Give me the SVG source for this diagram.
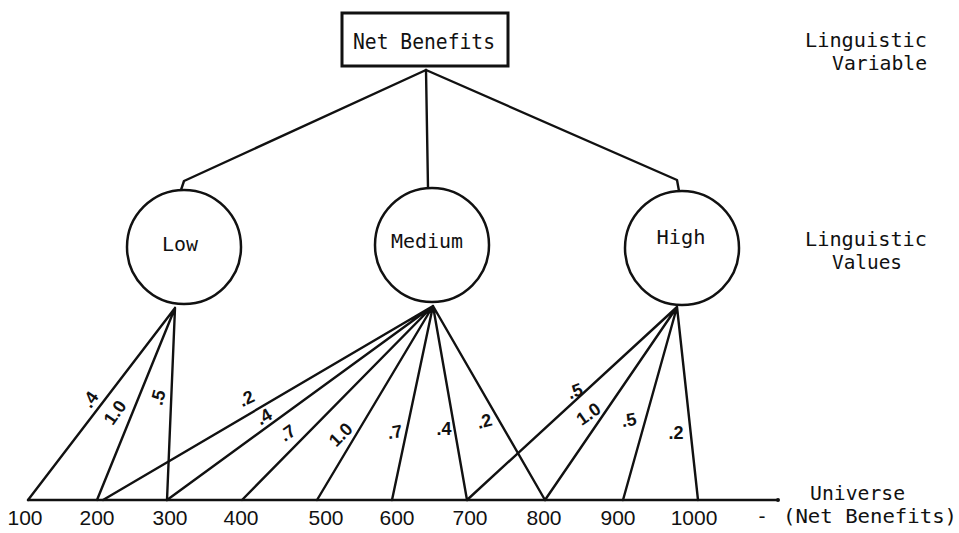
<svg xmlns="http://www.w3.org/2000/svg" width="959" height="533" viewBox="0 0 959 533">
<style>
.ln{fill:none;stroke:#111;stroke-width:2.4;stroke-linecap:round;stroke-linejoin:round}
.nd{fill:#fff;stroke:#111;stroke-width:2.5}
.mono{font-family:"DejaVu Sans Mono","Liberation Mono",monospace;fill:#111}
.num{font-family:"Liberation Sans","DejaVu Sans",sans-serif;font-size:21px;fill:#111;text-anchor:middle}
.mv{font-family:"Liberation Sans","DejaVu Sans",sans-serif;font-size:18px;font-weight:bold;fill:#111;text-anchor:middle}
</style>
<rect width="959" height="533" fill="#fff"/>
<g id="connectors">
<path class="ln" d="M426,70 L184,181 L181,190"/>
<path class="ln" d="M426,70 L428,188"/>
<path class="ln" d="M426,70 L677,180 L679,191"/>
<path class="ln" d="M175,308 L28,500 M175,308 L97,500 M175,308 L167,500"/>
<path class="ln" d="M433,306 L103,500 M433,306 L167,500 M433,306 L242,500 M433,306 L317,500 M433,306 L392,500 M433,306 L467,500 M433,306 L545,500"/>
<path class="ln" d="M677,307 L467,500 M677,307 L545,500 M677,307 L623,500 M677,307 L698,500"/>
</g>
<g id="axis">
<path class="ln" d="M28,500 L777,500"/>
<circle cx="778" cy="500" r="2" fill="#111"/>
</g>
<g id="net-benefits">
<rect x="342" y="13" width="166" height="53" fill="#fff" stroke="#111" stroke-width="3"/>
<text class="mono" x="353" y="49" font-size="21" textLength="142" lengthAdjust="spacingAndGlyphs">Net Benefits</text>
</g>
<g id="low">
<circle class="nd" cx="184" cy="247" r="57"/>
<text class="mono" x="180" y="251" font-size="20" text-anchor="middle" textLength="36" lengthAdjust="spacingAndGlyphs">Low</text>
</g>
<g id="medium">
<circle class="nd" cx="432" cy="245" r="57"/>
<text class="mono" x="427" y="248" font-size="20" text-anchor="middle" textLength="72" lengthAdjust="spacingAndGlyphs">Medium</text>
</g>
<g id="high">
<circle class="nd" cx="682" cy="248" r="57"/>
<text class="mono" x="681" y="244" font-size="20" text-anchor="middle" textLength="49" lengthAdjust="spacingAndGlyphs">High</text>
</g>
<g id="side-labels">
<text class="mono" x="805" y="47" font-size="20" textLength="122" lengthAdjust="spacingAndGlyphs">Linguistic</text>
<text class="mono" x="832" y="70" font-size="20" textLength="95" lengthAdjust="spacingAndGlyphs">Variable</text>
<text class="mono" x="805" y="246" font-size="20" textLength="122" lengthAdjust="spacingAndGlyphs">Linguistic</text>
<text class="mono" x="832" y="269" font-size="20" textLength="70" lengthAdjust="spacingAndGlyphs">Values</text>
<text class="mono" x="810" y="500" font-size="20" textLength="95" lengthAdjust="spacingAndGlyphs">Universe</text>
<text class="mono" x="783" y="523" font-size="20" textLength="174" lengthAdjust="spacingAndGlyphs">(Net Benefits)</text>
<text class="mono" x="762" y="523" font-size="20" text-anchor="middle">-</text>
</g>
<g id="axis-labels">
<text class="num" x="25" y="525">100</text>
<text class="num" x="97" y="525">200</text>
<text class="num" x="170" y="525">300</text>
<text class="num" x="241" y="525">400</text>
<text class="num" x="326" y="525">500</text>
<text class="num" x="397" y="525">600</text>
<text class="num" x="470" y="525">700</text>
<text class="num" x="544" y="525">800</text>
<text class="num" x="618" y="525">900</text>
<text class="num" x="694" y="525">1000</text>
</g>
<g id="membership-labels">
<text class="mv" transform="translate(95,403) rotate(-55)">.4</text>
<text class="mv" transform="translate(120,416) rotate(-55)">1.0</text>
<text class="mv" transform="translate(164,399) rotate(-75)">.5</text>
<text class="mv" transform="translate(249,404) rotate(-25)">.2</text>
<text class="mv" transform="translate(267,422) rotate(-30)">.4</text>
<text class="mv" transform="translate(291,438) rotate(-35)">.7</text>
<text class="mv" transform="translate(345,439) rotate(-45)">1.0</text>
<text class="mv" transform="translate(396,438) rotate(-10)">.7</text>
<text class="mv" transform="translate(444,435)">.4</text>
<text class="mv" transform="translate(486,427) rotate(-15)">.2</text>
<text class="mv" transform="translate(577,397) rotate(-20)">.5</text>
<text class="mv" transform="translate(592,419) rotate(-35)">1.0</text>
<text class="mv" transform="translate(630,426) rotate(-10)">.5</text>
<text class="mv" transform="translate(676,439)">.2</text>
</g>
</svg>
